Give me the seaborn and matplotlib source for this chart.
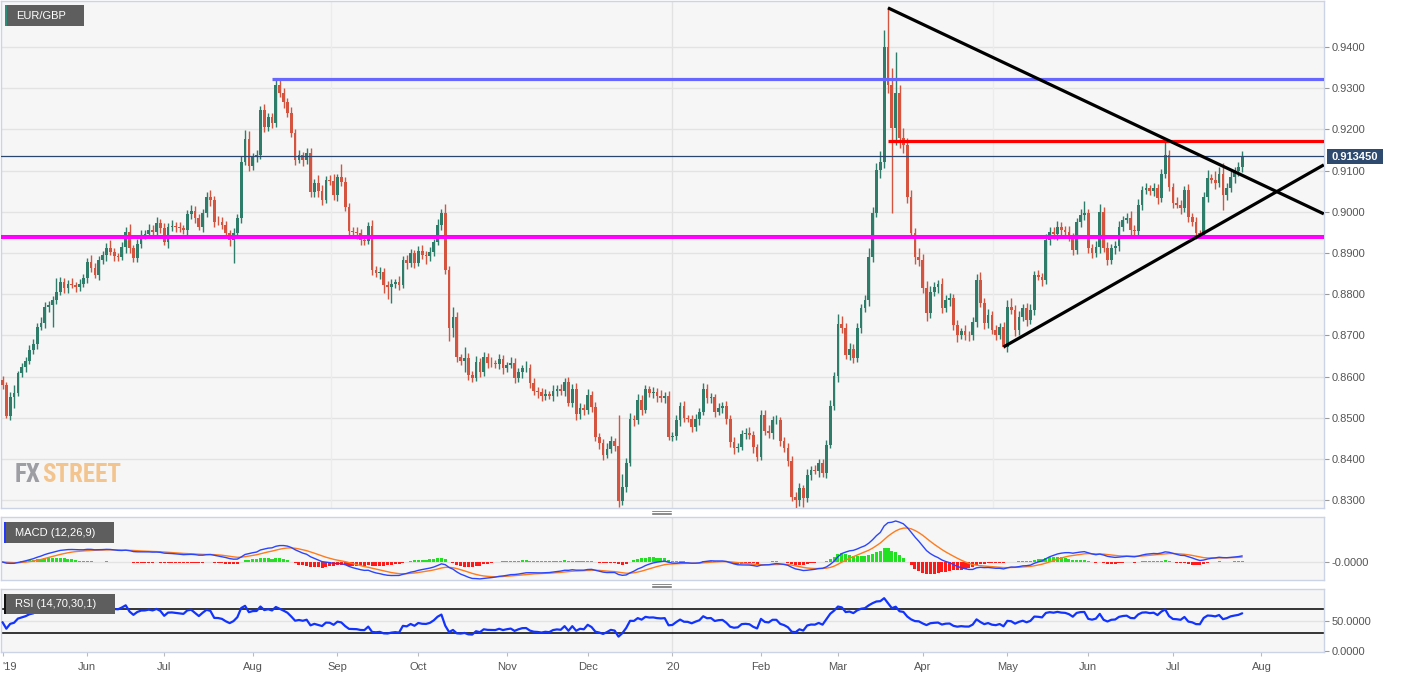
import numpy as np
import pandas as pd
import matplotlib
matplotlib.use("Agg")
import matplotlib.pyplot as plt
import seaborn as sns
from matplotlib.patches import Rectangle
from matplotlib.lines import Line2D

sns.set_theme(style="white")
plt.rcParams["font.family"] = ["Liberation Sans", "DejaVu Sans"]

# ---------------- data ----------------
pair_name = "EUR/GBP"
first_date = "2019-05-02"
first_open = 0.8592
closes = [
    0.8580, 0.8505, 0.8550, 0.8561, 0.8608, 0.8623, 0.8639, 0.8665, 0.8678, 0.8721, 0.8729, 0.8770, 0.8775, 0.8786, 0.8806, 0.8830, 0.8814, 0.8826, 0.8822, 0.8818,
    0.8826, 0.8839, 0.8879, 0.8863, 0.8847, 0.8883, 0.8895, 0.8913, 0.8903, 0.8893, 0.8891, 0.8915, 0.8950, 0.8911, 0.8887, 0.8923, 0.8944, 0.8946, 0.8957, 0.8952,
    0.8972, 0.8960, 0.8927, 0.8964, 0.8966, 0.8963, 0.8960, 0.8957, 0.8994, 0.9002, 0.8984, 0.8964, 0.8998, 0.9035, 0.9028, 0.8976, 0.8975, 0.8968, 0.8948, 0.8932,
    0.8948, 0.8984, 0.9122, 0.9176, 0.9112, 0.9134, 0.9137, 0.9247, 0.9207, 0.9229, 0.9215, 0.9309, 0.9288, 0.9266, 0.9241, 0.9191, 0.9126, 0.9138, 0.9126, 0.9142,
    0.9047, 0.9069, 0.9050, 0.9029, 0.9077, 0.9075, 0.9041, 0.9085, 0.9073, 0.9011, 0.8954, 0.8950, 0.8948, 0.8932, 0.8930, 0.8966, 0.8859, 0.8851, 0.8855, 0.8822,
    0.8818, 0.8826, 0.8830, 0.8822, 0.8883, 0.8876, 0.8900, 0.8876, 0.8905, 0.8895, 0.8893, 0.8903, 0.8927, 0.8968, 0.8996, 0.8859, 0.8717, 0.8745, 0.8647, 0.8638,
    0.8646, 0.8604, 0.8597, 0.8636, 0.8612, 0.8647, 0.8634, 0.8632, 0.8630, 0.8643, 0.8620, 0.8628, 0.8634, 0.8596, 0.8610, 0.8620, 0.8621, 0.8584, 0.8566, 0.8562,
    0.8553, 0.8558, 0.8553, 0.8566, 0.8570, 0.8566, 0.8588, 0.8537, 0.8570, 0.8509, 0.8525, 0.8518, 0.8555, 0.8527, 0.8454, 0.8438, 0.8410, 0.8425, 0.8444, 0.8432,
    0.8299, 0.8333, 0.8391, 0.8496, 0.8494, 0.8543, 0.8519, 0.8570, 0.8560, 0.8562, 0.8553, 0.8549, 0.8553, 0.8453, 0.8457, 0.8494, 0.8529, 0.8499, 0.8497, 0.8477,
    0.8497, 0.8514, 0.8570, 0.8547, 0.8550, 0.8515, 0.8525, 0.8528, 0.8496, 0.8442, 0.8426, 0.8430, 0.8461, 0.8464, 0.8459, 0.8428, 0.8406, 0.8508, 0.8469, 0.8462,
    0.8495, 0.8495, 0.8444, 0.8426, 0.8394, 0.8309, 0.8300, 0.8329, 0.8305, 0.8361, 0.8373, 0.8371, 0.8391, 0.8367, 0.8434, 0.8529, 0.8601, 0.8728, 0.8717, 0.8652,
    0.8666, 0.8644, 0.8717, 0.8767, 0.8786, 0.8891, 0.8997, 0.9101, 0.9122, 0.9401, 0.9308, 0.9203, 0.9288, 0.9179, 0.9162, 0.9037, 0.8948, 0.8891, 0.8883, 0.8814,
    0.8754, 0.8806, 0.8818, 0.8824, 0.8766, 0.8786, 0.8790, 0.8725, 0.8701, 0.8711, 0.8701, 0.8700, 0.8733, 0.8834, 0.8778, 0.8729, 0.8750, 0.8713, 0.8702, 0.8721,
    0.8672, 0.8770, 0.8762, 0.8713, 0.8745, 0.8766, 0.8737, 0.8762, 0.8847, 0.8843, 0.8834, 0.8932, 0.8952, 0.8945, 0.8964, 0.8955, 0.8952, 0.8937, 0.8907, 0.8976,
    0.8993, 0.8996, 0.8911, 0.8899, 0.8915, 0.9000, 0.8912, 0.8883, 0.8912, 0.8917, 0.8964, 0.8980, 0.8986, 0.8956, 0.8953, 0.9017, 0.9053, 0.9058, 0.9050, 0.9057,
    0.9033, 0.9093, 0.9138, 0.9061, 0.9021, 0.9017, 0.9009, 0.9053, 0.8988, 0.8976, 0.8948, 0.8946, 0.9037, 0.9081, 0.9078, 0.9070, 0.9093, 0.9041, 0.9057, 0.9085,
    0.9098, 0.9109, 0.91345,
]
upper_wick_pips = [
    10, 8, 12, 19, 6, 10, 8, 12, 14, 9, 16, 12, 8, 10, 33, 12, 10, 9, 14, 8,
    12, 10, 8, 15, 12, 10, 9, 12, 18, 10, 8, 12, 14, 20, 8, 10, 12, 9, 14, 10,
    16, 10, 12, 8, 14, 10, 12, 8, 10, 14, 12, 10, 8, 12, 18, 10, 14, 12, 10, 8,
    12, 10, 14, 22, 20, 8, 12, 10, 14, 12, 10, 11, 16, 12, 10, 14, 10, 12, 8, 14,
    12, 10, 20, 14, 10, 12, 18, 8, 30, 12, 10, 8, 14, 10, 12, 9, 14, 10, 12, 8,
    10, 12, 8, 14, 10, 12, 10, 8, 12, 14, 10, 12, 8, 15, 12, 23, 10, 25, 12, 8,
    25, 12, 10, 14, 8, 12, 10, 14, 9, 12, 10, 8, 14, 10, 12, 8, 18, 10, 12, 8,
    10, 12, 8, 14, 10, 12, 8, 10, 12, 14, 10, 9, 14, 10, 12, 8, 10, 14, 12, 8,
    75, 30, 12, 15, 10, 14, 12, 10, 8, 12, 10, 14, 10, 12, 8, 14, 10, 12, 8, 10,
    12, 10, 14, 12, 10, 8, 12, 10, 14, 10, 12, 8, 10, 12, 14, 10, 8, 12, 10, 14,
    10, 12, 8, 10, 12, 14, 10, 12, 8, 14, 10, 12, 10, 8, 12, 14, 10, 25, 20, 12,
    15, 12, 14, 10, 12, 20, 15, 18, 25, 40, 97, 40, 101, 20, 25, 18, 15, 12, 20, 15,
    18, 14, 12, 10, 16, 12, 14, 10, 12, 8, 14, 10, 12, 16, 20, 12, 14, 10, 12, 8,
    12, 15, 20, 12, 14, 10, 12, 14, 10, 12, 8, 15, 12, 10, 14, 12, 10, 14, 12, 10,
    14, 30, 12, 10, 14, 20, 12, 14, 10, 12, 14, 10, 12, 16, 12, 14, 10, 12, 8, 12,
    10, 12, 32, 12, 10, 14, 12, 10, 14, 10, 12, 8, 10, 20, 12, 20, 15, 25, 12, 18,
    10, 12, 12,
]
lower_wick_pips = [
    10, 5, 10, 25, 8, 10, 12, 8, 10, 12, 8, 10, 12, 54, 10, 8, 12, 10, 8, 12,
    10, 8, 12, 10, 8, 12, 10, 14, 8, 12, 10, 8, 14, 12, 10, 8, 12, 10, 8, 14,
    10, 12, 8, 14, 10, 12, 8, 10, 14, 12, 10, 8, 12, 10, 14, 12, 8, 10, 12, 14,
    57, 12, 10, 8, 14, 10, 12, 8, 14, 10, 12, 8, 10, 14, 12, 10, 12, 8, 14, 10,
    12, 10, 14, 12, 8, 10, 12, 14, 10, 8, 12, 10, 14, 12, 10, 8, 12, 10, 14, 20,
    30, 40, 10, 12, 8, 14, 10, 12, 8, 10, 20, 12, 10, 8, 12, 10, 30, 20, 12, 10,
    28, 12, 10, 8, 14, 10, 12, 8, 10, 12, 14, 10, 8, 12, 10, 14, 8, 12, 10, 14,
    12, 10, 8, 12, 14, 10, 12, 8, 10, 14, 12, 10, 8, 12, 10, 14, 12, 8, 10, 12,
    16, 10, 12, 8, 14, 10, 12, 8, 10, 12, 14, 10, 12, 8, 10, 12, 14, 10, 8, 12,
    10, 14, 8, 12, 10, 12, 8, 14, 10, 12, 14, 10, 8, 12, 10, 14, 12, 8, 10, 12,
    14, 10, 12, 8, 10, 12, 19, 14, 22, 10, 12, 8, 14, 10, 12, 8, 10, 14, 12, 10,
    12, 10, 8, 12, 10, 14, 12, 10, 20, 15, 20, 206, 40, 25, 20, 15, 12, 18, 14, 12,
    20, 12, 10, 14, 12, 10, 14, 12, 16, 10, 12, 14, 10, 12, 10, 14, 12, 10, 14, 10,
    2, 12, 10, 14, 12, 10, 14, 10, 12, 8, 14, 10, 12, 10, 14, 12, 10, 8, 12, 10,
    12, 14, 10, 12, 8, 14, 10, 12, 10, 14, 12, 10, 8, 12, 10, 14, 12, 10, 8, 12,
    14, 10, 12, 10, 12, 8, 14, 10, 12, 10, 14, 6, 10, 12, 8, 14, 10, 37, 12, 10,
    14, 10, 12,
]
price_ticks = [0.83, 0.84, 0.85, 0.86, 0.87, 0.88, 0.89, 0.90, 0.91, 0.92, 0.93, 0.94]
last_price_label = "0.913450"
last_price = 0.91345

# drawn levels / trend lines (bar index, price)
blue_level = (70.0, 0.9322)
red_level = (230.0, 0.9172)
magenta_level = 0.8939
trend_down_x = [230.0, 343.2]
trend_down_y = [0.9495, 0.8995]
trend_up_x = [260.0, 343.2]
trend_up_y = [0.8672, 0.9114]

rsi_levels = [70, 30]
rsi_seed_move = 0.0010   # neutral average daily move assumed before the first bar
macd_title = "MACD (12,26,9)"
rsi_title = "RSI (14,70,30,1)"
logo_parts = ["FX", "STREET"]

# ---------------- derived series ----------------
n = len(closes)
xs = np.arange(n)
c = np.array(closes)
o = np.array([first_open] + closes[:-1])
hi = np.maximum(o, c) + np.array(upper_wick_pips) / 1e4
lo = np.minimum(o, c) - np.array(lower_wick_pips) / 1e4

s = pd.Series(c)
ema12 = s.ewm(span=12, adjust=False).mean()
ema26 = s.ewm(span=26, adjust=False).mean()
macd = ema12 - ema26
signal = macd.ewm(span=9, adjust=False).mean()
hist = macd - signal

# Wilder RSI(14)
delta = c - o
ag, al = rsi_seed_move, rsi_seed_move
rsi = np.empty(n)
for k in range(n):
    g = max(delta[k], 0.0)
    l = max(-delta[k], 0.0)
    ag = (ag * 13 + g) / 14
    al = (al * 13 + l) / 14
    rsi[k] = 100 - 100 / (1 + ag / al)

all_dates = pd.bdate_range(first_date, periods=346)
tick_pos, tick_lab = [], []
prev = None
for k, d in enumerate(all_dates):
    key = (d.year, d.month)
    if key != prev:
        tick_pos.append(k)
        if k == 0 or d.month == 1:
            tick_lab.append("'" + d.strftime("%y"))
        else:
            tick_lab.append(d.strftime("%b"))
        prev = key

# ---------------- layout ----------------
W, H = 1413, 678
fig = plt.figure(figsize=(W / 100, H / 100), dpi=100)
fig.patch.set_facecolor("white")


def rect(x0, y0, x1, y1):
    return [x0 / W, 1 - y1 / H, (x1 - x0) / W, (y1 - y0) / H]


ax = fig.add_axes(rect(0.5, 1, 1324, 508))
axm = fig.add_axes(rect(0.5, 517, 1324, 580))
axr = fig.add_axes(rect(0.5, 589, 1324, 652))

PX_PER_BAR = 3.85
X0 = 2.5
xlim = ((0.5 - X0) / PX_PER_BAR, (1324 - X0) / PX_PER_BAR)

spine_col = "#cdd3e6"
face = "#f6f6f6"
grid_col = "#e3e3e3"
for a in (ax, axm, axr):
    a.set_facecolor(face)
    a.set_xlim(*xlim)
    for sp in a.spines.values():
        sp.set_color(spine_col)
        sp.set_linewidth(1)
    a.yaxis.tick_right()
    a.tick_params(axis="y", which="both", right=True, left=False, length=3.5, width=0.8,
                  color="#9a9a9a", labelcolor="#555555", labelsize=8, pad=2)
    a.axvline(173.9, color="#e2e2e2", lw=1, zorder=0)

# ---------------- main panel ----------------
ax.set_ylim(0.82811, 0.95117)
ax.set_yticks(price_ticks)
ax.set_yticklabels([f"{t:.4f}" for t in price_ticks])
for t in price_ticks:
    ax.axhline(t, color=grid_col, lw=1, zorder=0)
for vx in (85.3, 257.3):
    ax.axvline(vx, color="#ececec", lw=1, zorder=0)
ax.set_xticks([])

green, red = "#2e7d6b", "#d5543f"
cols = np.where(c >= o, green, red)
ax.vlines(xs, lo, hi, colors=cols, lw=1, zorder=3)
body = np.maximum(np.abs(c - o), 0.00006)
ax.bar(xs, body, bottom=np.minimum(o, c), width=0.72, color=cols, lw=0, zorder=4)

ax.plot([blue_level[0], xlim[1]], [blue_level[1]] * 2, color="#6767ff", lw=2.3, zorder=5,
        solid_capstyle="butt")
ax.plot([red_level[0], xlim[1]], [red_level[1]] * 2, color="#ff0000", lw=2.3, zorder=5,
        solid_capstyle="butt")
ax.axhline(magenta_level, color="#ff00ff", lw=2.9, zorder=5)
ax.axhline(last_price, color="#2b466e", lw=0.9, zorder=5)
ax.plot(trend_down_x, trend_down_y, color="black", lw=2.3, zorder=6, solid_capstyle="butt")
ax.plot(trend_up_x, trend_up_y, color="black", lw=2.3, zorder=6, solid_capstyle="butt")

# ---------------- MACD panel ----------------
top = max(macd.max(), signal.max()) * 45 / 41
axm.set_ylim(-top * 18 / 45, top)
axm.axhline(0, color=grid_col, lw=1, zorder=0)
axm.bar(xs, hist, width=0.8, color=np.where(hist >= 0, "#22e022", "#ff1a1a"), lw=0, zorder=2)
sns.lineplot(x=xs, y=signal.values, ax=axm, color="#ff7b1c", lw=1, zorder=3, legend=False)
sns.lineplot(x=xs, y=macd.values, ax=axm, color="#2a45ff", lw=1, zorder=4, legend=False)
axm.set_yticks([0])
axm.set_yticklabels(["-0.0000"])
axm.set_xticks([])
axm.set_ylabel("")

# ---------------- RSI panel ----------------
axr.set_ylim(-2.2, 103.4)
axr.axhline(50, color=grid_col, lw=1, zorder=0)
for lv in rsi_levels:
    axr.axhline(lv, color="black", lw=1.1, zorder=2)
sns.lineplot(x=xs, y=rsi, ax=axr, color="#1133ff", lw=1.6, zorder=3, legend=False)
axr.set_yticks([0, 50])
axr.set_yticklabels(["0.0000", "50.0000"])
axr.set_ylabel("")
axr.set_xticks(tick_pos)
axr.set_xticklabels(tick_lab)
axr.tick_params(axis="x", bottom=True, length=3, width=0.8, color="#bbbbbb",
                labelcolor="#555555", labelsize=8, pad=4)
axr.get_xticklabels()[0].set_ha("left")
axr.set_xlim(*xlim)

# ---------------- overlays in figure pixels ----------------
def fbox(x0, y0, x1, y1, color, z=10, alpha=1.0):
    fig.add_artist(Rectangle((x0 / W, 1 - y1 / H), (x1 - x0) / W, (y1 - y0) / H,
                             transform=fig.transFigure, facecolor=color, edgecolor="none",
                             zorder=z, alpha=alpha))


fbox(5, 5, 84, 26, "#5e5e5e")
fbox(5, 5, 7, 26, "#2f8a78", z=11)
fig.text(16 / W, 1 - 16 / H, pair_name, color="white", fontsize=8, va="center", ha="left", zorder=12)

fbox(4, 522, 114, 543, "#5e5e5e")
fbox(4, 522, 6, 543, "#2238ff", z=11)
fig.text(15 / W, 1 - 532.5 / H, macd_title, color="white", fontsize=8, va="center", ha="left", zorder=12)

fbox(4, 594, 115, 614, "#5e5e5e")
fbox(4, 594, 6, 614, "#111111", z=11)
fig.text(15 / W, 1 - 604 / H, rsi_title, color="white", fontsize=8, va="center", ha="left", zorder=12)

# last price tag
fbox(1327, 149, 1383, 164, "#2e4a6e")
fig.text(1355 / W, 1 - 157 / H, last_price_label, color="white", fontsize=8, fontweight="bold",
         va="center", ha="center", zorder=12)

# watermark (two colours, second part placed right after the first)
logo_family = ["Roboto Condensed", "Liberation Sans Narrow", "Liberation Sans"]
t_fx = fig.text(15 / W, 1 - 475 / H, logo_parts[0], color="#9d9da4", fontsize=18,
                fontweight="bold", family=logo_family, va="center", ha="left", zorder=2)
fig.canvas.draw()
bb = t_fx.get_window_extent(renderer=fig.canvas.get_renderer())
fig.text((bb.x1 + 1) / W, 1 - 475 / H, logo_parts[1], color="#f3c48e", fontsize=18,
         fontweight="bold", family=logo_family, va="center", ha="left", zorder=2)

# panel grips
for yy in (512.5, 585.5):
    for dy in (-1.5, 0, 1.5):
        fig.add_artist(Line2D([652 / W, 671 / W], [1 - (yy + dy) / H] * 2,
                              transform=fig.transFigure, color="#8a8a8a", lw=0.7, zorder=12))

fig.savefig("out.png", dpi=100, facecolor="white")
